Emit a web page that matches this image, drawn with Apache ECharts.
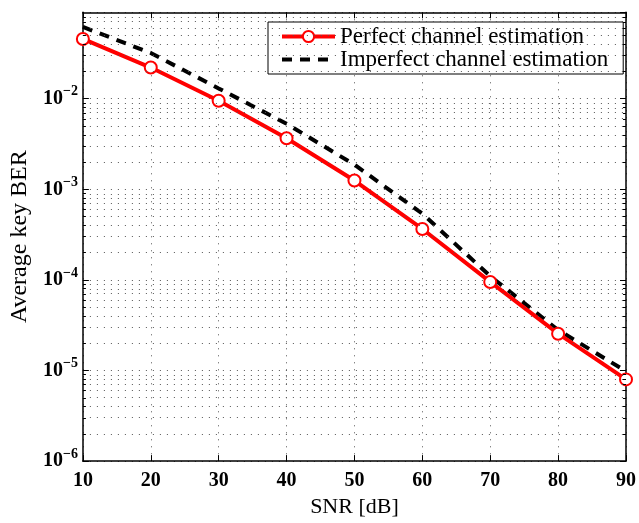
<!DOCTYPE html>
<html>
<head>
<meta charset="utf-8">
<script src="https://cdn.jsdelivr.net/npm/echarts@6/dist/echarts.min.js"></script>
<style>
  html, body { margin: 0; padding: 0; background: #fff; }
  #chart { width: 639px; height: 523px; }
</style>
</head>
<body>
<div id="chart"></div>
<script>
// SNR points (dB)
const snr = [10, 20, 30, 40, 50, 60, 70, 80, 90];
// average key BER
const berPerfect = [0.0457, 0.0221, 0.0095, 0.00367, 0.00125, 0.000365, 9.5e-5, 2.55e-5, 7.98e-6];
const berImperfect = [0.062, 0.032, 0.0130, 0.0053, 0.00187, 0.00054, 1.1e-4, 2.8e-5, 9.8e-6];
const seriesNames = ['Perfect channel estimation', 'Imperfect channel estimation'];
// y axis range (BER), decades shown as 10^n
const yMin = 1e-6;
const yMax = 0.09;
const decades = [-6, -5, -4, -3, -2];

const serif = '"Liberation Serif", "Times New Roman", serif';
const log = v => Math.log10(v);

// dotted minor grid lines at 2..9 x 10^n (log spaced)
const minorVals = [];
decades.forEach(n => {
  for (let k = 2; k <= 9; k++) {
    const v = k * Math.pow(10, n);
    if (v < yMax * 0.999) minorVals.push(log(v));
  }
});
const minorGrid = minorVals.map(v => ({ yAxis: v }));
// small minor ticks on the left and right border
const minorTicks = [];
minorVals.forEach(v => {
  minorTicks.push([{ coord: [10, v] }, { coord: [10.45, v] }]);
  minorTicks.push([{ coord: [89.55, v] }, { coord: [90, v] }]);
});

const chart = echarts.init(document.getElementById('chart'), null, { renderer: 'canvas' });

const dotted = () => ({ color: '#555', width: 1, type: [1, 6] });

const option = {
  backgroundColor: '#fff',
  animation: false,
  grid: { left: 80.5, right: 9, top: 12.3, bottom: 55 },
  legend: {
    orient: 'vertical',
    left: 268,
    top: 22,
    data: [
      {
        name: seriesNames[0],
        lineStyle: { color: '#ff0000', width: 4, type: 'solid' }
      },
      {
        name: seriesNames[1],
        lineStyle: { color: '#000', width: 4, type: [10, 8] },
        itemStyle: { opacity: 0 }
      }
    ],
    backgroundColor: '#fff',
    borderColor: '#000',
    borderWidth: 1,
    borderRadius: 0,
    padding: [3, 15, 3, 12],
    itemGap: 0,
    itemWidth: 53,
    itemHeight: 14,
    textStyle: { fontFamily: serif, fontSize: 23, color: '#000', lineHeight: 18 }
  },
  xAxis: [{
    type: 'value',
    min: 10,
    max: 90,
    interval: 10,
    name: 'SNR [dB]',
    nameLocation: 'middle',
    nameGap: 28,
    nameTextStyle: { fontFamily: serif, fontSize: 22, color: '#000' },
    axisLine: { lineStyle: { color: '#000', width: 1.5 } },
    axisTick: { inside: true, length: 6, lineStyle: { color: '#000' } },
    axisLabel: { margin: 10, fontFamily: serif, fontSize: 20, fontWeight: 'bold', color: '#000' },
    splitLine: { show: true, lineStyle: dotted() }
  }, {
    type: 'value',
    position: 'top',
    min: 10,
    max: 90,
    interval: 10,
    axisLine: { show: true, lineStyle: { color: '#000', width: 1.5 } },
    axisTick: { show: true, inside: true, length: 6, lineStyle: { color: '#000' } },
    axisLabel: { show: false },
    splitLine: { show: false }
  }],
  yAxis: [{
    type: 'value',
    min: log(yMin),
    max: log(yMax),
    interval: 1,
    name: 'Average key BER',
    nameLocation: 'middle',
    nameGap: 48,
    nameTextStyle: { fontFamily: serif, fontSize: 24, color: '#000' },
    axisLine: { show: true, lineStyle: { color: '#000', width: 1.5 } },
    axisTick: { show: true, inside: true, length: 6, lineStyle: { color: '#000' } },
    axisLabel: {
      margin: 5,
      showMaxLabel: false,
      formatter: v => {
        const n = Math.round(v);
        if (Math.abs(v - n) > 1e-6) return '';
        return '{b|10}{e|−' + Math.abs(n) + '}';
      },
      rich: {
        b: { fontFamily: serif, fontSize: 20, fontWeight: 'bold', color: '#000' },
        e: { fontFamily: serif, fontSize: 14, fontWeight: 'bold', color: '#000', padding: [0, 0, 14, 0] }
      }
    },
    splitLine: { show: true, lineStyle: dotted() }
  }, {
    type: 'value',
    position: 'right',
    min: log(yMin),
    max: log(yMax),
    interval: 1,
    axisLine: { show: true, lineStyle: { color: '#000', width: 1.5 } },
    axisTick: { show: true, inside: true, length: 6, lineStyle: { color: '#000' } },
    axisLabel: { show: false },
    splitLine: { show: false }
  }],
  series: [
    {
      name: 'grid',
      type: 'line',
      data: [],
      silent: true,
      markLine: {
        silent: true,
        symbol: 'none',
        label: { show: false },
        lineStyle: dotted(),
        data: minorGrid
      }
    },
    {
      name: 'ticks',
      type: 'line',
      data: [],
      silent: true,
      markLine: {
        silent: true,
        symbol: 'none',
        label: { show: false },
        lineStyle: { color: '#000', width: 1, type: 'solid' },
        data: minorTicks
      }
    },
    {
      name: seriesNames[1],
      type: 'line',
      data: snr.map((x, i) => [x, log(berImperfect[i])]),
      symbol: 'none',
      lineStyle: { color: '#000', width: 4, type: [10, 8] },
      itemStyle: { color: '#000' },
      z: 3
    },
    {
      name: seriesNames[0],
      type: 'line',
      data: snr.map((x, i) => [x, log(berPerfect[i])]),
      symbol: 'emptyCircle',
      symbolSize: 12,
      lineStyle: { color: '#ff0000', width: 4, type: 'solid' },
      itemStyle: { color: '#ff0000', borderColor: '#ff0000', borderWidth: 3.5 },
      z: 4
    }
  ]
};

chart.setOption(option);
</script>
</body>
</html>
